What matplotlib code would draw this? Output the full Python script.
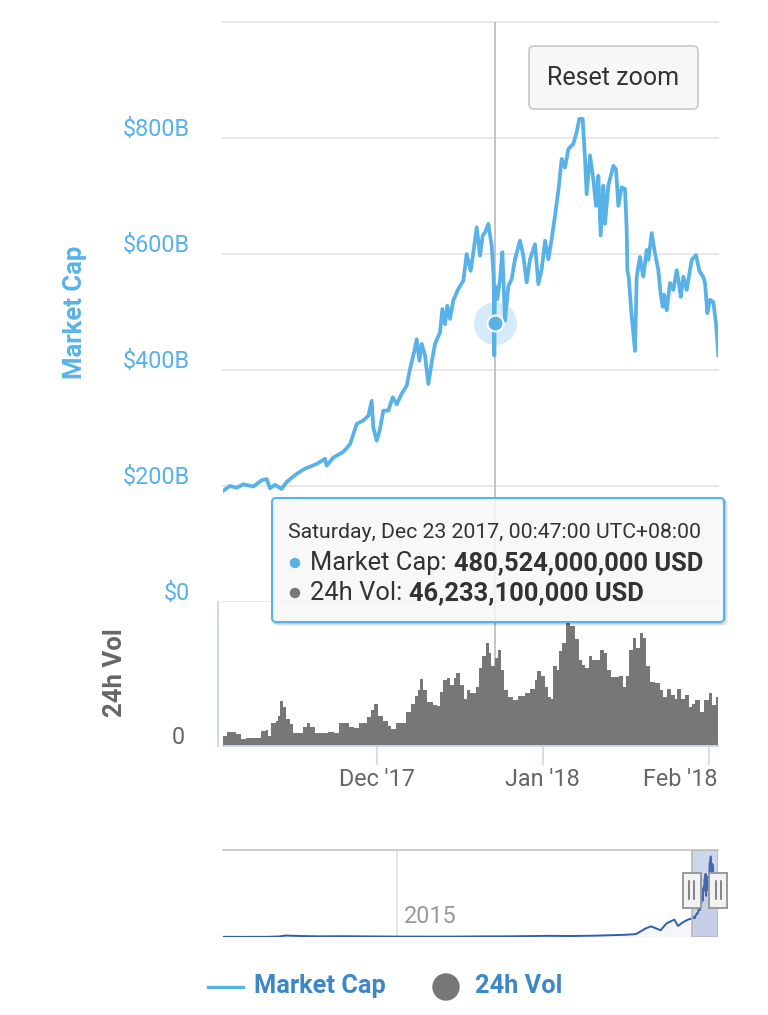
import numpy as np
import pandas as pd
import matplotlib
matplotlib.use("Agg")
import matplotlib.pyplot as plt
import matplotlib.dates as mdates
import matplotlib.transforms as mtransforms
from matplotlib.patches import FancyBboxPatch, Rectangle, Circle
from matplotlib.lines import Line2D

plt.rcParams["font.family"] = ["Roboto", "DejaVu Sans"]

# market cap: days after 2017-11-01 00:00 (UTC+8), billions of USD
cap_day = [1.42, 2.67, 3.91, 5.16, 7.02, 8.58, 9.51, 10.13, 11.06, 12.31, 13.24, 15.10,
           16.66, 18.84, 20.39, 20.70, 21.95, 23.81, 25.06, 26.30, 27.54, 28.48, 29.10,
           29.41, 30.03, 30.65, 31.27, 32.21, 33.02, 33.76, 34.70, 35.63, 36.25, 37.00,
           37.49, 37.99, 38.43, 39.05, 39.67, 40.29, 40.91, 41.85, 42.28, 42.78, 43.22,
           43.71, 44.33, 45.27, 46.20, 46.82, 47.57, 48.07, 48.69, 49.31, 49.81, 50.24,
           50.86, 51.49, 51.85, 51.98, 52.03, 52.11, 52.54, 53.04, 53.48, 53.97, 54.60,
           55.22, 55.84, 56.77, 57.39, 58.02, 58.64, 59.57, 60.19, 60.82, 61.44, 62.06,
           62.68, 63.30, 63.92, 64.55, 65.17, 65.79, 66.72, 67.34, 67.84, 68.46, 68.90,
           69.21, 69.83, 70.45, 70.95, 71.39, 71.82, 72.32, 72.63, 73.25, 74.18, 74.68,
           75.12, 75.74, 76.36, 76.68, 76.80, 77.05, 77.61, 78.23, 78.54, 79.16, 79.47,
           79.78, 80.40, 80.72, 81.34, 81.96, 82.58, 83.02, 83.39, 83.64, 84.14, 84.76,
           85.38, 86.00, 86.50, 86.76, 87.25, 87.87, 88.18, 88.80, 89.61, 90.23, 90.98,
           91.29, 91.72, 92.22, 92.84, 93.34, 93.77]
cap_bn = [192, 200, 197, 203, 199, 210, 212, 196, 202, 195, 207, 221,
          230, 238, 247, 235, 249, 259, 272, 307, 313, 321, 347,
          301, 278, 298, 330, 330, 353, 341, 359, 373, 402, 430,
          453, 416, 445, 425, 376, 413, 445, 465, 505, 479, 511,
          488, 520, 540, 554, 600, 571, 603, 646, 597, 632, 637,
          652, 614, 560, 425, 480.5, 545, 522, 557, 603, 485, 545,
          557, 591, 623, 597, 551, 591, 617, 548, 574, 623, 591,
          626, 666, 709, 764, 749, 781, 790, 810, 833, 833, 764,
          703, 770, 729, 683, 735, 632, 718, 652, 718, 752, 746,
          683, 715, 712, 640, 572, 560, 492, 433, 561, 595, 575,
          561, 607, 590, 636, 601, 572, 530, 509, 530, 503, 550,
          538, 572, 545, 526, 561, 538, 555, 590, 598, 571, 560,
          550, 498, 521, 517, 480, 425]

# 24h volume: days after 2017-11-01, billions of USD
vol_day = [1.37, 2.12, 3.07, 3.70, 4.65, 5.59, 8.11, 8.43, 9.38, 9.69, 10.32, 11.27,
           11.58, 12.02, 12.53, 13.16, 13.79, 14.42, 15.68, 16.31, 16.94, 17.57, 18.52,
           20.41, 21.04, 21.99, 22.94, 23.88, 24.83, 25.77, 26.72, 27.67, 28.30, 28.93,
           29.56, 30.19, 31.14, 32.08, 32.71, 33.66, 34.92, 35.55, 36.50, 37.13, 37.76,
           38.20, 38.70, 39.33, 40.60, 41.23, 41.86, 42.49, 43.12, 43.75, 44.38, 44.88,
           45.64, 46.27, 46.90, 47.53, 48.48, 49.11, 49.74, 50.37, 51.00, 51.44, 52.03,
           52.71, 53.21, 53.84, 54.47, 55.42, 56.36, 57.63, 58.57, 59.52, 60.02, 60.65,
           61.41, 62.04, 62.54, 62.99, 63.62, 64.06, 64.69, 65.32, 66.14, 67.09, 67.72,
           68.35, 68.98, 69.61, 70.24, 71.00, 71.63, 72.45, 73.08, 73.71, 74.66, 75.29,
           75.92, 76.55, 77.18, 77.81, 78.44, 79.07, 79.70, 80.21, 80.96, 81.91, 82.85,
           83.48, 84.12, 84.87, 85.69, 86.13, 86.76, 87.58, 88.21, 88.85, 89.48, 90.42,
           91.05, 92.00, 92.63, 93.26, 93.71]
vol_bn = [5.3, 7.1, 7.1, 6.2, 3.6, 4.4, 4.4, 8.0, 8.4, 5.3, 11.9, 13.3,
          16.0, 23.5, 20.4, 14.2, 11.6, 6.6, 6.6, 10.1, 11.9, 10.1, 6.6,
          6.6, 7.5, 6.6, 11.9, 11.9, 10.1, 9.2, 11.9, 11.9, 15.1, 18.7,
          22.2, 16.0, 13.3, 10.7, 8.9, 11.9, 11.9, 17.8, 22.2, 26.1, 29.3,
          35.0, 29.3, 23.1, 21.3, 20.8, 28.4, 34.7, 35.6, 32.0, 35.6, 38.2,
          32.0, 24.9, 29.3, 27.6, 31.1, 40.9, 47.1, 54.2, 48.9, 41.8, 46.2,
          50.7, 40.0, 29.3, 25.8, 24.0, 26.1, 27.6, 30.2, 34.7, 39.6, 36.8,
          31.1, 25.8, 24.9, 41.8, 40.0, 49.8, 54.2, 65.8, 63.1, 56.0, 45.3,
          42.7, 40.9, 47.1, 45.3, 45.3, 50.7, 48.9, 40.0, 36.1, 36.1, 36.8,
          30.8, 36.8, 50.7, 56.9, 51.6, 59.2, 56.9, 41.8, 33.8, 32.9, 29.3,
          25.8, 30.2, 26.7, 24.9, 30.2, 24.9, 26.7, 20.4, 22.2, 24.4, 17.8,
          24.0, 27.6, 21.3, 25.8, 21.3]

# navigator: market cap history before the zoomed window, billions of USD
hist_date = ["2013-04-28", "2013-07-01", "2013-10-01", "2013-11-10", "2013-12-04",
             "2014-01-15", "2014-04-01", "2014-07-01", "2014-10-01", "2015-01-15",
             "2015-05-01", "2015-08-01", "2015-11-05", "2016-02-01", "2016-06-18",
             "2016-09-01", "2016-12-01", "2017-02-01", "2017-03-15", "2017-04-20",
             "2017-05-25", "2017-06-12", "2017-07-16", "2017-08-05", "2017-09-02",
             "2017-09-15", "2017-10-01", "2017-10-20"]
hist_bn = [1.6, 1.2, 2.0, 5.0, 15, 11, 7, 8, 6, 4,
           3.5, 4.3, 6.5, 7, 12, 10, 14, 20, 23, 30,
           90, 110, 70, 140, 180, 115, 150, 180]

hover_day = 52.03
hover_cap = 480.524
hover_vol = 46.2331
hover_head = "Saturday, Dec 23 2017, 00:47:00 UTC+08:00"

start = pd.Timestamp("2017-11-01")
view = (1.36, 93.71)
cap_ticks = [0, 200, 400, 600, 800, 1000]
cap_labels = ["$0", "$200B", "$400B", "$600B", "$800B", ""]
month_ticks = ["2017-12-01", "2018-01-01", "2018-02-01"]

BLUE = "#58b2e8"
GREY = "#777777"
AXIS = "#ccd6eb"
LEGEND = "#3d87c8"

W, H = 768, 1015
fig = plt.figure(figsize=(W / 100, H / 100), dpi=100)
pix = mtransforms.IdentityTransform()
up = mtransforms.ScaledTranslation(0, 0.115, fig.dpi_scale_trans)


def box(l, t, r, b):
    return [l / W, 1 - b / H, (r - l) / W, (b - t) / H]


cap_dates = start + pd.to_timedelta(cap_day, unit="D")
vol_dates = start + pd.to_timedelta(vol_day, unit="D")
hover_date = start + pd.to_timedelta(hover_day, unit="D")
x0 = start + pd.to_timedelta(view[0], unit="D")
x1 = start + pd.to_timedelta(view[1], unit="D")

# ---- market cap panel
ax = fig.add_axes(box(223, 22, 718, 602))
ax.plot(cap_dates, cap_bn, color=BLUE, lw=2.7, solid_joinstyle="round", zorder=3)
ax.set_xlim(x0, x1)
ax.set_ylim(0, 1000)
ax.set_yticks(cap_ticks)
ax.set_yticklabels(cap_labels)
ax.set_xticks([])
ax.tick_params(axis="y", length=0, pad=24, labelsize=16.8, labelcolor=BLUE)
ax.grid(axis="y", color="#e6e6e6", lw=1.3)
for gl in ax.get_ygridlines():
    gl.set_clip_on(False)
for s in ax.spines.values():
    s.set_visible(False)
for lab in ax.get_yticklabels():
    lab.set_transform(lab.get_transform() + up)
ax.axvline(hover_date, color="#b5b5b5", lw=1.1, zorder=2)
ax.plot(hover_date, hover_cap, "o", ms=31, color=BLUE, alpha=0.25, mew=0, zorder=4)
ax.plot(hover_date, hover_cap, "o", ms=11.5, color=BLUE, mec="white", mew=1.5, zorder=5)

fig.text(75 / W, 1 - 312 / H, "Market Cap", rotation=90, ha="center", va="center",
         color=BLUE, fontsize=18.5, fontweight="bold")

# ---- volume panel
axv = fig.add_axes(box(223, 602, 718, 746))
axv.fill_between(vol_dates, vol_bn, step="post", color=GREY, lw=0, zorder=2)
axv.axvline(hover_date, color="#b5b5b5", lw=1.1, zorder=1)
axv.set_xlim(x0, x1)
axv.set_ylim(0, 75.7)
for k in ["top", "right"]:
    axv.spines[k].set_visible(False)
axv.spines["left"].set_position(("outward", 3.6))
axv.spines["left"].set_color(AXIS)
axv.spines["left"].set_linewidth(1.4)
axv.spines["bottom"].set_color(AXIS)
axv.spines["bottom"].set_linewidth(1.4)
axv.set_yticks([0])
axv.set_yticklabels(["0"])
axv.tick_params(axis="y", length=0, pad=24, labelsize=16.8, labelcolor="#666666")
axv.set_xticks(pd.to_datetime(month_ticks))
axv.xaxis.set_major_formatter(mdates.DateFormatter("%b '%y"))
axv.tick_params(axis="x", length=14, width=1.2, color=AXIS, pad=2,
                labelsize=16.8, labelcolor="#666666")
for lab in axv.get_yticklabels():
    lab.set_transform(lab.get_transform() + up)
labs = axv.get_xticklabels()
labs[-1].set_ha("right")
labs[-1].set_transform(labs[-1].get_transform()
                       + mtransforms.ScaledTranslation(0.085, 0, fig.dpi_scale_trans))

fig.text(115 / W, 1 - 673 / H, "24h Vol", rotation=90, ha="center", va="center",
         color="#666666", fontsize=18.5, fontweight="bold")

# ---- navigator
axn = fig.add_axes(box(223, 850, 718, 937))
nav_dates = list(pd.to_datetime(hist_date)) + list(cap_dates)
nav_vals = hist_bn + cap_bn
axn.plot(nav_dates, nav_vals, color="#335cad", lw=1.4, zorder=3)
axn.fill_between(nav_dates, nav_vals, color="#335cad", alpha=0.05, lw=0, zorder=2)
axn.set_xlim(pd.Timestamp(hist_date[0]), x1)
axn.set_ylim(0, 900)
axn.set_xticks([])
axn.set_yticks([])
for k in ["left", "right", "bottom"]:
    axn.spines[k].set_visible(False)
axn.spines["top"].set_color("#cccccc")
axn.spines["top"].set_linewidth(1.4)
y2015 = pd.Timestamp("2015-01-01")
axn.axvline(y2015, color="#e6e6e6", lw=1.4, zorder=1)
axn.annotate("2015", (mdates.date2num(y2015), 0.23), xycoords=axn.get_xaxis_transform(),
             xytext=(5, 0), textcoords="offset points",
             ha="left", va="center", fontsize=16.8, color="#999999")
axn.axvspan(x0, x1, facecolor=(102 / 255, 133 / 255, 194 / 255, 0.33),
            edgecolor="#b8b8b8", lw=1.2, zorder=4)

hy = H - 890
for d in (x0, x1):
    hx = axn.transData.transform((mdates.date2num(d), 0))[0]
    fig.add_artist(Rectangle((hx - 9, hy - 17.5), 18, 35, transform=pix,
                             facecolor="#f2f2f2", edgecolor="#999999", lw=1.4, zorder=6))
    for dx in (-2.5, 2.5):
        fig.add_artist(Line2D([hx + dx, hx + dx], [hy - 9, hy + 9], transform=pix,
                              color="#666666", lw=1.1, zorder=7))

# ---- reset zoom button
fig.add_artist(FancyBboxPatch((529, H - 109), 169, 63, transform=pix,
                              boxstyle="round,pad=0,rounding_size=5",
                              facecolor="#f7f7f7", edgecolor="#cccccc", lw=1.3, zorder=6))
fig.text(613.5 / W, 1 - 78 / H, "Reset zoom", ha="center", va="center",
         fontsize=18, color="#333333", zorder=7)

# ---- tooltip
tl, tt, tr, tb = 272, 498, 724, 622
for off, a in ((3, 0.05), (2, 0.08), (1, 0.12)):
    fig.add_artist(FancyBboxPatch((tl + off, H - tb - off), tr - tl, tb - tt, transform=pix,
                                  boxstyle="round,pad=0,rounding_size=4",
                                  facecolor="none", edgecolor=(0, 0, 0, a), lw=1.5,
                                  zorder=8))
fig.add_artist(FancyBboxPatch((tl, H - tb), tr - tl, tb - tt, transform=pix,
                              boxstyle="round,pad=0,rounding_size=4",
                              facecolor=(247 / 255, 247 / 255, 247 / 255, 0.86),
                              edgecolor=BLUE, lw=1.5, zorder=9))
fig.text(288 / W, 1 - 532 / H, hover_head, ha="left", va="center",
         fontsize=15.3, color="#333333", zorder=10)

renderer = fig.canvas.get_renderer()
rows = [("Market Cap:", f"{hover_cap * 1e9:,.0f} USD", BLUE, 563),
        ("24h Vol:", f"{hover_vol * 1e9:,.0f} USD", GREY, 593)]
for name, val, col, yy in rows:
    fig.add_artist(Circle((295, H - yy), 4.5, transform=pix, color=col, zorder=10))
    t = fig.text(310 / W, 1 - yy / H, name, ha="left", va="center",
                 fontsize=18.4, color="#333333", zorder=10)
    ext = t.get_window_extent(renderer)
    fig.text((ext.x1 + 7) / W, 1 - yy / H, val, ha="left", va="center",
             fontsize=18.4, fontweight="bold", color="#333333", zorder=10)

# ---- legend
fig.add_artist(Line2D([208, 243], [H - 987, H - 987], transform=pix, color=BLUE, lw=2.4))
fig.text(254 / W, 1 - 986 / H, "Market Cap", ha="left", va="center",
         fontsize=18.3, fontweight="bold", color=LEGEND)
fig.add_artist(Circle((446, H - 987), 13, transform=pix, color=GREY))
fig.text(475 / W, 1 - 986 / H, "24h Vol", ha="left", va="center",
         fontsize=18.3, fontweight="bold", color=LEGEND)

fig.savefig("out.png", dpi=100)
